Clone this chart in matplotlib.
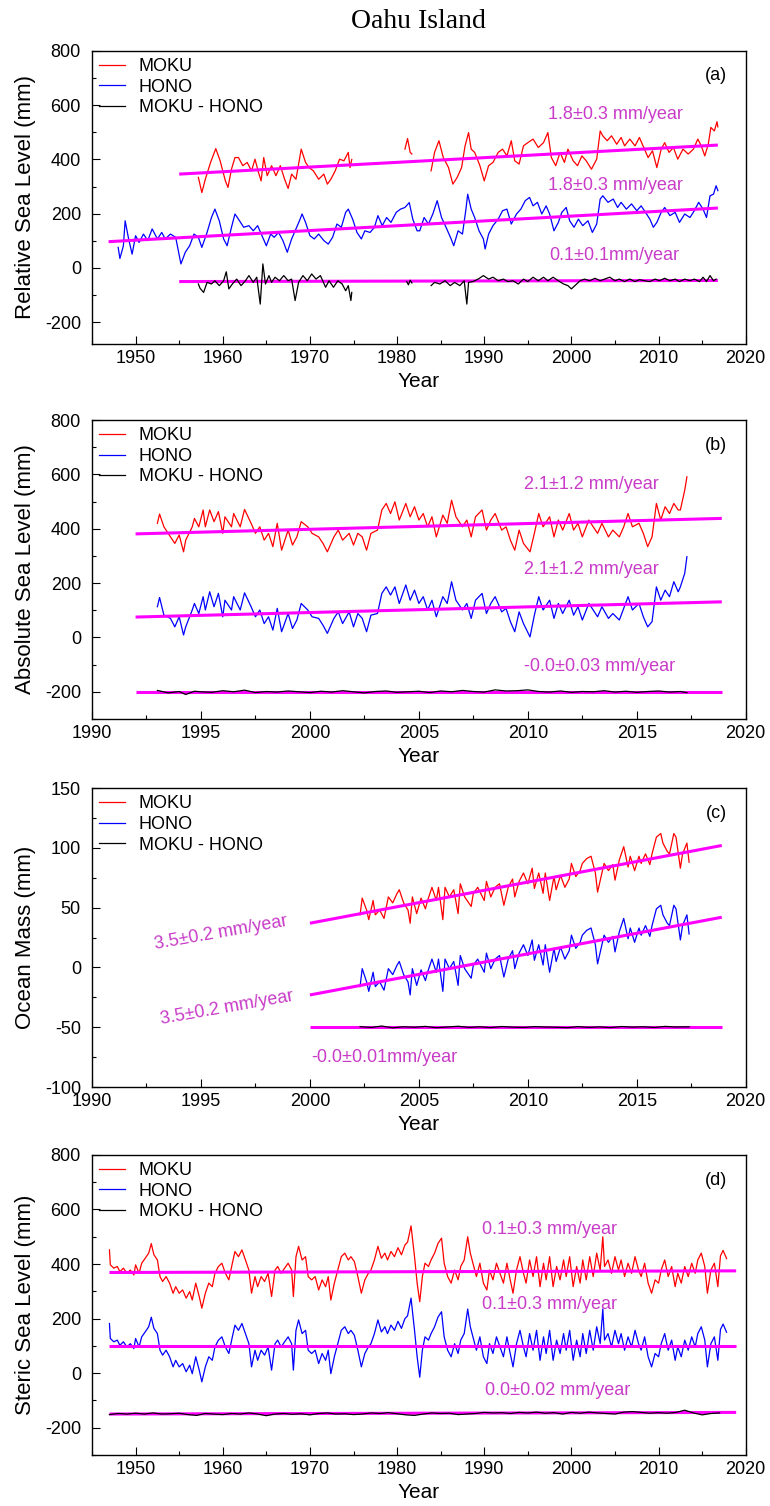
import numpy as np
import matplotlib
matplotlib.use('Agg')
import matplotlib.pyplot as plt
from matplotlib.ticker import MultipleLocator

plt.rcParams['font.family'] = ['Liberation Sans', 'DejaVu Sans']
plt.rcParams['axes.unicode_minus'] = False

nan = np.nan

# ---------------- (a) Relative sea level, tide gauges ----------------
a_moku = np.array([
    (1957.2, 334), (1957.6, 278), (1958.0, 327), (1958.6, 389), (1959.2, 440), (1959.7, 395),
    (1960.3, 321), (1960.6, 297), (1961.0, 364), (1961.4, 407), (1961.8, 407), (1962.3, 377),
    (1962.8, 389), (1963.3, 358), (1963.7, 401), (1964.1, 352), (1964.4, 321), (1964.7, 407),
    (1965.1, 340), (1965.6, 377), (1966.1, 340), (1966.6, 377), (1967.1, 327), (1967.5, 293),
    (1967.9, 346), (1968.4, 327), (1969.0, 438), (1969.5, 389), (1969.9, 370), (1970.4, 358),
    (1971.0, 327), (1971.6, 346), (1972.0, 309), (1972.4, 327), (1972.9, 358), (1973.4, 401),
    (1973.9, 395), (1974.4, 426), (1974.6, 370), (1974.8, 400), (1978.0, nan),
    (1980.9, 438), (1981.2, 477), (1981.5, 426), (1981.7, 420), (1983.0, nan),
    (1983.9, 358), (1984.3, 426), (1984.8, 469), (1985.3, 407), (1985.9, 370), (1986.4, 309),
    (1986.9, 334), (1987.4, 370), (1987.8, 450), (1988.2, 499), (1988.5, 438), (1988.9, 426),
    (1989.5, 377), (1990.0, 321), (1990.5, 377), (1991.0, 389), (1991.6, 426), (1992.1, 438),
    (1992.6, 413), (1993.1, 469), (1993.5, 395), (1994.0, 383), (1994.5, 450), (1995.0, 462),
    (1995.6, 475), (1996.2, 444), (1996.8, 462), (1997.3, 499), (1997.7, 407), (1998.2, 377),
    (1998.7, 426), (1999.2, 389), (1999.6, 438), (2000.2, 395), (2000.7, 377), (2001.2, 413),
    (2001.7, 395), (2002.3, 364), (2002.9, 401), (2003.3, 505), (2003.6, 487), (2004.1, 469),
    (2004.6, 487), (2005.2, 456), (2005.7, 481), (2006.1, 450), (2006.7, 475), (2007.3, 450),
    (2007.8, 481), (2008.3, 444), (2008.8, 407), (2009.3, 432), (2009.8, 370), (2010.3, 438),
    (2010.7, 462), (2011.2, 426), (2011.7, 444), (2012.2, 401), (2012.8, 438), (2013.4, 420),
    (2014.0, 438), (2014.5, 475), (2014.9, 450), (2015.3, 413), (2015.7, 456), (2016.0, 518),
    (2016.4, 505), (2016.7, 539), (2016.8, 520)])

a_hono = np.array([
    (1948.0, 76), (1948.2, 35), (1948.6, 82), (1948.8, 174), (1949.2, 107), (1949.6, 51),
    (1950.0, 119), (1950.4, 94), (1950.9, 125), (1951.4, 101), (1951.9, 144), (1952.5, 107),
    (1953.0, 131), (1953.4, 107), (1954.0, 125), (1954.6, 113), (1954.9, 64), (1955.2, 15),
    (1955.7, 58), (1956.2, 82), (1956.7, 125), (1957.2, 113), (1957.6, 76), (1958.2, 131),
    (1958.7, 186), (1959.1, 217), (1959.6, 174), (1960.1, 107), (1960.5, 82), (1961.0, 150),
    (1961.4, 199), (1961.8, 180), (1962.4, 150), (1963.0, 156), (1963.5, 137), (1964.0, 156),
    (1964.5, 119), (1965.0, 82), (1965.5, 125), (1965.9, 113), (1966.4, 131), (1966.9, 101),
    (1967.4, 58), (1967.9, 107), (1968.3, 137), (1968.8, 174), (1969.1, 199), (1969.5, 168),
    (1970.0, 119), (1970.5, 107), (1971.0, 125), (1971.6, 101), (1972.1, 88), (1972.6, 113),
    (1973.1, 162), (1973.6, 150), (1974.1, 205), (1974.4, 217), (1974.9, 180), (1975.4, 131),
    (1975.9, 107), (1976.3, 137), (1976.9, 131), (1977.4, 150), (1977.8, 193), (1978.3, 156),
    (1978.8, 186), (1979.3, 168), (1979.9, 205), (1980.4, 217), (1980.9, 223), (1981.4, 241),
    (1981.8, 180), (1982.3, 137), (1982.6, 137), (1983.1, 186), (1983.6, 162), (1984.1, 199),
    (1984.6, 248), (1985.1, 186), (1985.7, 144), (1986.2, 107), (1986.5, 82), (1987.0, 137),
    (1987.5, 125), (1987.9, 217), (1988.1, 272), (1988.5, 217), (1988.9, 186), (1989.4, 137),
    (1989.9, 107), (1990.1, 70), (1990.5, 125), (1991.0, 156), (1991.6, 180), (1992.1, 211),
    (1992.6, 217), (1993.1, 162), (1993.7, 199), (1994.2, 217), (1994.7, 248), (1995.2, 260),
    (1995.6, 229), (1996.1, 242), (1996.6, 199), (1997.1, 229), (1997.5, 199), (1998.0, 137),
    (1998.5, 168), (1998.9, 205), (1999.4, 223), (1999.8, 174), (2000.3, 150), (2000.8, 180),
    (2001.3, 156), (2001.9, 174), (2002.4, 131), (2002.9, 162), (2003.3, 254), (2003.6, 266),
    (2004.2, 242), (2004.8, 254), (2005.3, 223), (2005.7, 242), (2006.3, 217), (2006.9, 236),
    (2007.5, 211), (2008.0, 229), (2008.5, 205), (2009.0, 180), (2009.4, 150), (2009.8, 168),
    (2010.3, 205), (2010.7, 223), (2011.3, 193), (2011.9, 205), (2012.4, 168), (2013.0, 199),
    (2013.6, 186), (2014.1, 211), (2014.6, 242), (2015.1, 217), (2015.5, 186), (2015.9, 266),
    (2016.3, 272), (2016.6, 303), (2016.8, 285)])

a_diff = np.array([
    (1957.2, -59), (1957.4, -75), (1957.8, -90), (1958.2, -53), (1958.7, -59), (1959.1, -47),
    (1959.6, -65), (1960.1, -47), (1960.4, -14), (1960.7, -77), (1961.1, -59), (1961.6, -41),
    (1962.1, -65), (1962.6, -47), (1963.0, -28), (1963.5, -53), (1963.9, -34), (1964.3, -133),
    (1964.6, 15), (1964.9, -59), (1965.3, -28), (1965.6, -53), (1966.0, -34), (1966.5, -47),
    (1967.0, -28), (1967.5, -47), (1967.9, -41), (1968.3, -120), (1968.7, -53), (1969.2, -28),
    (1969.7, -47), (1970.2, -22), (1970.7, -41), (1971.2, -28), (1971.8, -71), (1972.2, -47),
    (1972.7, -71), (1973.2, -47), (1973.7, -59), (1974.1, -84), (1974.4, -65), (1974.7, -120),
    (1974.8, -90), (1978.0, nan),
    (1981.1, -50), (1981.3, -62), (1981.5, -45), (1981.7, -55), (1982.5, nan),
    (1983.9, -65), (1984.3, -53), (1984.9, -59), (1985.5, -47), (1986.1, -65), (1986.6, -53),
    (1987.2, -65), (1987.7, -47), (1988.0, -133), (1988.2, -53), (1988.7, -50), (1989.3, -41),
    (1989.9, -28), (1990.5, -41), (1991.0, -34), (1991.6, -47), (1992.2, -41), (1992.7, -50),
    (1993.3, -47), (1993.9, -59), (1994.5, -41), (1995.0, -50), (1995.6, -34), (1996.2, -47),
    (1996.8, -34), (1997.3, -47), (1997.9, -34), (1998.5, -47), (1999.1, -59), (1999.6, -65),
    (2000.0, -77), (2000.5, -62), (2001.0, -47), (2001.5, -41), (2002.1, -47), (2002.7, -38),
    (2003.3, -47), (2003.8, -41), (2004.4, -34), (2005.0, -47), (2005.5, -41), (2006.1, -50),
    (2006.7, -41), (2007.3, -50), (2007.8, -43), (2008.4, -47), (2009.0, -50), (2009.6, -41),
    (2010.1, -47), (2010.7, -38), (2011.3, -47), (2011.9, -41), (2012.4, -50), (2013.0, -41),
    (2013.6, -47), (2014.1, -41), (2014.7, -50), (2015.1, -34), (2015.5, -50), (2015.9, -28),
    (2016.3, -47), (2016.6, -41)])

a_trend_moku = np.array([(1955.0, 346), (2016.8, 453)])
a_trend_hono = np.array([(1946.9, 97), (2016.8, 221)])
a_trend_diff = np.array([(1955.0, -50), (2016.8, -46)])

# ---------------- (b) Absolute sea level ----------------
b_moku = np.array([
    (1993.0, 420), (1993.1, 454), (1993.3, 407), (1993.6, 370), (1993.8, 346), (1994.0, 377),
    (1994.2, 315), (1994.3, 358), (1994.6, 407), (1994.7, 438), (1994.9, 407), (1995.1, 469),
    (1995.2, 407), (1995.4, 469), (1995.6, 426), (1995.8, 463), (1996.0, 383), (1996.1, 444),
    (1996.4, 407), (1996.5, 456), (1996.8, 407), (1997.0, 471), (1997.3, 420), (1997.5, 383),
    (1997.7, 407), (1997.9, 358), (1998.1, 383), (1998.3, 334), (1998.5, 420), (1998.7, 321),
    (1999.0, 395), (1999.2, 340), (1999.4, 370), (1999.6, 426), (1999.9, 407), (2000.1, 383),
    (2000.4, 370), (2000.6, 346), (2000.8, 315), (2001.1, 370), (2001.3, 395), (2001.5, 358),
    (2001.8, 383), (2002.0, 340), (2002.2, 383), (2002.4, 370), (2002.6, 321), (2002.8, 383),
    (2003.1, 395), (2003.3, 469), (2003.5, 493), (2003.7, 456), (2003.9, 499), (2004.1, 432),
    (2004.4, 493), (2004.6, 444), (2004.8, 481), (2005.0, 432), (2005.2, 456), (2005.4, 407),
    (2005.6, 444), (2005.8, 370), (2006.1, 450), (2006.3, 420), (2006.5, 505), (2006.7, 444),
    (2007.0, 407), (2007.2, 432), (2007.4, 370), (2007.6, 444), (2007.9, 469), (2008.1, 395),
    (2008.3, 432), (2008.5, 456), (2008.8, 395), (2009.0, 407), (2009.2, 358), (2009.4, 321),
    (2009.6, 395), (2009.8, 346), (2010.1, 315), (2010.3, 383), (2010.5, 456), (2010.7, 407),
    (2011.0, 444), (2011.2, 370), (2011.4, 432), (2011.6, 395), (2011.9, 456), (2012.1, 395),
    (2012.3, 420), (2012.5, 370), (2012.8, 432), (2013.0, 407), (2013.2, 383), (2013.4, 420),
    (2013.7, 370), (2013.9, 395), (2014.2, 370), (2014.4, 407), (2014.6, 456), (2014.8, 407),
    (2015.1, 420), (2015.3, 383), (2015.5, 334), (2015.7, 370), (2015.9, 493), (2016.1, 432),
    (2016.3, 481), (2016.5, 456), (2016.7, 493), (2016.9, 469), (2017.0, 469), (2017.2, 542),
    (2017.3, 591)])

b_hono = np.array([
    (1993.0, 113), (1993.1, 147), (1993.3, 82), (1993.6, 70), (1993.8, 39), (1994.0, 76),
    (1994.2, 9), (1994.3, 39), (1994.6, 101), (1994.7, 125), (1994.9, 88), (1995.1, 150),
    (1995.2, 101), (1995.4, 168), (1995.6, 113), (1995.8, 162), (1996.0, 76), (1996.1, 137),
    (1996.4, 101), (1996.5, 150), (1996.8, 101), (1997.0, 164), (1997.3, 113), (1997.5, 76),
    (1997.7, 101), (1997.9, 51), (1998.1, 76), (1998.3, 27), (1998.5, 107), (1998.7, 21),
    (1999.0, 88), (1999.2, 33), (1999.4, 64), (1999.6, 125), (1999.9, 101), (2000.1, 76),
    (2000.4, 70), (2000.6, 45), (2000.8, 15), (2001.1, 70), (2001.3, 94), (2001.5, 51),
    (2001.8, 94), (2002.0, 39), (2002.2, 88), (2002.4, 70), (2002.6, 21), (2002.8, 82),
    (2003.1, 88), (2003.3, 162), (2003.5, 186), (2003.7, 156), (2003.9, 186), (2004.1, 125),
    (2004.4, 193), (2004.6, 137), (2004.8, 174), (2005.0, 125), (2005.2, 150), (2005.4, 101),
    (2005.6, 137), (2005.8, 76), (2006.1, 150), (2006.3, 125), (2006.5, 205), (2006.7, 137),
    (2007.0, 101), (2007.2, 125), (2007.4, 70), (2007.6, 137), (2007.9, 162), (2008.1, 88),
    (2008.3, 125), (2008.5, 150), (2008.8, 94), (2009.0, 107), (2009.2, 58), (2009.4, 21),
    (2009.6, 94), (2009.8, 51), (2010.1, 2), (2010.3, 82), (2010.5, 150), (2010.7, 101),
    (2011.0, 137), (2011.2, 70), (2011.4, 125), (2011.6, 88), (2011.9, 137), (2012.1, 82),
    (2012.3, 113), (2012.5, 64), (2012.8, 125), (2013.0, 101), (2013.2, 76), (2013.4, 113),
    (2013.7, 70), (2013.9, 88), (2014.2, 64), (2014.4, 107), (2014.6, 150), (2014.8, 101),
    (2015.1, 125), (2015.3, 76), (2015.5, 39), (2015.7, 58), (2015.9, 186), (2016.1, 137),
    (2016.3, 174), (2016.5, 150), (2016.7, 205), (2016.9, 168), (2017.0, 186), (2017.2, 236),
    (2017.3, 297)])

b_diff = np.array([
    (1993.0, -195), (1993.5, -204), (1994.0, -199), (1994.3, -210), (1994.7, -198), (1995.0, -200),
    (1995.5, -202), (1996.0, -196), (1996.5, -200), (1997.0, -194), (1997.5, -203), (1998.0, -199),
    (1998.5, -201), (1999.0, -197), (1999.5, -200), (2000.0, -203), (2000.5, -198), (2001.0, -201),
    (2001.5, -196), (2002.0, -200), (2002.5, -204), (2003.0, -199), (2003.5, -197), (2004.0, -202),
    (2004.5, -200), (2005.0, -198), (2005.5, -203), (2006.0, -197), (2006.5, -200), (2007.0, -195),
    (2007.5, -199), (2008.0, -201), (2008.5, -193), (2009.0, -197), (2009.5, -196), (2010.0, -193),
    (2010.5, -199), (2011.0, -201), (2011.5, -197), (2012.0, -202), (2012.5, -199), (2013.0, -200),
    (2013.5, -196), (2014.0, -201), (2014.5, -198), (2015.0, -202), (2015.5, -199), (2016.0, -197),
    (2016.5, -201), (2017.0, -199), (2017.3, -203)])

b_trend_moku = np.array([(1992.0, 381), (2018.9, 438)])
b_trend_hono = np.array([(1992.0, 75), (2018.9, 131)])
b_trend_diff = np.array([(1992.0, -200), (2018.9, -200)])

# ---------------- (c) Ocean mass ----------------
c_moku = np.array([
    (2002.3, 44), (2002.4, 58), (2002.6, 48), (2002.7, 40), (2002.9, 56), (2003.0, 44),
    (2003.2, 48), (2003.4, 41), (2003.6, 59), (2003.8, 54), (2004.0, 62), (2004.1, 65),
    (2004.3, 54), (2004.5, 48), (2004.6, 37), (2004.7, 59), (2004.9, 45), (2005.1, 58),
    (2005.3, 49), (2005.4, 56), (2005.6, 67), (2005.8, 56), (2005.9, 67), (2006.1, 40),
    (2006.2, 67), (2006.4, 59), (2006.6, 65), (2006.8, 45), (2006.9, 70), (2007.1, 59),
    (2007.4, 51), (2007.5, 62), (2007.7, 67), (2008.0, 56), (2008.1, 72), (2008.3, 59),
    (2008.5, 67), (2008.7, 70), (2008.9, 52), (2009.1, 67), (2009.3, 74), (2009.4, 59),
    (2009.6, 72), (2009.8, 79), (2010.0, 70), (2010.2, 83), (2010.3, 66), (2010.5, 79),
    (2010.7, 62), (2010.8, 79), (2011.0, 56), (2011.2, 76), (2011.3, 65), (2011.5, 77),
    (2011.7, 67), (2011.9, 74), (2012.0, 87), (2012.2, 76), (2012.4, 81), (2012.5, 87),
    (2012.7, 91), (2012.9, 93), (2013.1, 79), (2013.2, 63), (2013.4, 79), (2013.5, 87),
    (2013.7, 81), (2013.9, 86), (2014.0, 73), (2014.2, 90), (2014.4, 101), (2014.6, 84),
    (2014.7, 93), (2014.9, 81), (2015.1, 93), (2015.2, 87), (2015.4, 95), (2015.6, 86),
    (2015.7, 95), (2015.9, 109), (2016.1, 112), (2016.2, 104), (2016.4, 97), (2016.5, 95),
    (2016.7, 112), (2016.8, 109), (2017.0, 83), (2017.1, 95), (2017.3, 104), (2017.4, 88)])

c_hono = np.array([
    (2002.3, -16), (2002.4, -1), (2002.6, -12), (2002.7, -20), (2002.9, -4), (2003.0, -16),
    (2003.2, -12), (2003.4, -19), (2003.6, -1), (2003.8, -6), (2004.0, 2), (2004.1, 5),
    (2004.3, -6), (2004.5, -12), (2004.6, -23), (2004.7, -1), (2004.9, -15), (2005.1, -2),
    (2005.3, -11), (2005.4, -4), (2005.6, 7), (2005.8, -4), (2005.9, 7), (2006.1, -20),
    (2006.2, 7), (2006.4, -1), (2006.6, 5), (2006.8, -15), (2006.9, 10), (2007.1, -1),
    (2007.4, -9), (2007.5, 2), (2007.7, 7), (2008.0, -4), (2008.1, 12), (2008.3, -1),
    (2008.5, 7), (2008.7, 10), (2008.9, -8), (2009.1, 7), (2009.3, 14), (2009.4, -1),
    (2009.6, 12), (2009.8, 19), (2010.0, 10), (2010.2, 23), (2010.3, 6), (2010.5, 19),
    (2010.7, 2), (2010.8, 19), (2011.0, -4), (2011.2, 16), (2011.3, 5), (2011.5, 17),
    (2011.7, 7), (2011.9, 14), (2012.0, 27), (2012.2, 16), (2012.4, 21), (2012.5, 27),
    (2012.7, 31), (2012.9, 33), (2013.1, 19), (2013.2, 3), (2013.4, 19), (2013.5, 27),
    (2013.7, 21), (2013.9, 26), (2014.0, 13), (2014.2, 30), (2014.4, 41), (2014.6, 24),
    (2014.7, 33), (2014.9, 21), (2015.1, 33), (2015.2, 27), (2015.4, 35), (2015.6, 26),
    (2015.7, 35), (2015.9, 49), (2016.1, 52), (2016.2, 44), (2016.4, 37), (2016.5, 35),
    (2016.7, 52), (2016.8, 49), (2017.0, 23), (2017.1, 35), (2017.3, 44), (2017.4, 28)])

c_diff = np.array([
    (2002.3, -49.5), (2002.8, -50.2), (2003.3, -49.0), (2003.8, -50.5), (2004.3, -49.6),
    (2004.8, -50.0), (2005.3, -49.3), (2005.8, -50.4), (2006.3, -49.8), (2006.8, -49.2),
    (2007.3, -50.1), (2007.8, -49.6), (2008.3, -50.3), (2008.8, -49.4), (2009.3, -49.9),
    (2009.8, -50.2), (2010.3, -49.5), (2010.8, -49.8), (2011.3, -50.0), (2011.8, -50.4),
    (2012.3, -49.5), (2012.8, -50.1), (2013.3, -49.7), (2013.8, -50.3), (2014.3, -49.4),
    (2014.8, -49.9), (2015.3, -49.6), (2015.8, -50.2), (2016.3, -49.3), (2016.8, -49.8),
    (2017.4, -49.6)])

c_trend_moku = np.array([(2000.0, 37), (2018.9, 102)])
c_trend_hono = np.array([(2000.0, -23), (2018.9, 42)])
c_trend_diff = np.array([(2000.0, -50), (2018.9, -50)])

# ---------------- (d) Steric sea level ----------------
d_moku = np.array([
    (1947.0, 452), (1947.1, 397), (1947.5, 385), (1947.9, 391), (1948.2, 372), (1948.6, 385),
    (1949.0, 366), (1949.4, 378), (1949.8, 360), (1950.0, 397), (1950.4, 366), (1950.7, 403),
    (1951.1, 421), (1951.5, 440), (1951.8, 475), (1952.1, 434), (1952.5, 415), (1952.8, 354),
    (1953.1, 336), (1953.5, 354), (1953.9, 330), (1954.3, 293), (1954.6, 317), (1955.0, 293),
    (1955.4, 305), (1955.8, 275), (1956.2, 299), (1956.5, 268), (1956.9, 330), (1957.3, 281),
    (1957.6, 238), (1958.0, 293), (1958.4, 330), (1958.8, 317), (1959.1, 366), (1959.5, 391),
    (1959.9, 403), (1960.3, 366), (1960.7, 342), (1961.1, 403), (1961.4, 446), (1961.8, 427),
    (1962.2, 452), (1962.6, 415), (1963.0, 378), (1963.3, 293), (1963.7, 354), (1964.0, 317),
    (1964.4, 354), (1964.8, 336), (1965.2, 366), (1965.6, 281), (1966.0, 378), (1966.3, 391),
    (1966.7, 366), (1967.1, 385), (1967.5, 403), (1967.9, 378), (1968.1, 281), (1968.4, 427),
    (1968.7, 465), (1969.1, 415), (1969.5, 427), (1969.8, 354), (1970.2, 342), (1970.6, 354),
    (1971.0, 305), (1971.4, 342), (1971.8, 317), (1972.1, 354), (1972.4, 268), (1972.8, 330),
    (1973.2, 378), (1973.6, 427), (1974.0, 440), (1974.4, 415), (1974.7, 427), (1975.1, 409),
    (1975.5, 354), (1975.9, 293), (1976.3, 342), (1976.7, 366), (1977.0, 378), (1977.4, 415),
    (1977.8, 465), (1978.2, 421), (1978.6, 440), (1978.9, 415), (1979.3, 446), (1979.7, 427),
    (1980.1, 460), (1980.5, 434), (1980.9, 470), (1981.2, 480), (1981.6, 540), (1982.0, 427),
    (1982.3, 330), (1982.6, 262), (1982.9, 354), (1983.2, 403), (1983.6, 391), (1983.9, 415),
    (1984.3, 440), (1984.7, 476), (1985.1, 495), (1985.4, 403), (1985.8, 354), (1986.2, 330),
    (1986.6, 378), (1987.0, 342), (1987.3, 391), (1987.7, 415), (1988.1, 500), (1988.4, 440),
    (1988.7, 403), (1989.1, 354), (1989.5, 403), (1989.9, 330), (1990.3, 305), (1990.6, 378),
    (1991.0, 342), (1991.4, 403), (1991.8, 366), (1992.2, 330), (1992.6, 403), (1992.9, 354),
    (1993.3, 293), (1993.7, 378), (1994.1, 427), (1994.5, 366), (1994.8, 330), (1995.2, 415),
    (1995.6, 354), (1996.0, 427), (1996.4, 317), (1996.8, 403), (1997.1, 342), (1997.5, 427),
    (1997.9, 317), (1998.3, 391), (1998.7, 342), (1999.1, 415), (1999.4, 354), (1999.8, 427),
    (2000.2, 317), (2000.6, 391), (2001.0, 330), (2001.3, 415), (2001.7, 342), (2002.1, 427),
    (2002.5, 354), (2002.9, 440), (2003.3, 378), (2003.6, 500), (2003.8, 391), (2004.2, 415),
    (2004.6, 366), (2005.0, 427), (2005.4, 378), (2005.7, 415), (2006.1, 354), (2006.5, 403),
    (2006.9, 366), (2007.3, 427), (2007.7, 378), (2008.0, 354), (2008.4, 403), (2008.8, 330),
    (2009.2, 293), (2009.6, 342), (2010.0, 330), (2010.3, 378), (2010.7, 415), (2011.1, 354),
    (2011.5, 391), (2011.9, 317), (2012.2, 366), (2012.6, 330), (2013.0, 391), (2013.4, 354),
    (2013.8, 403), (2014.2, 366), (2014.5, 415), (2014.9, 440), (2015.3, 391), (2015.6, 293),
    (2016.0, 378), (2016.4, 403), (2016.8, 317), (2017.1, 430), (2017.4, 450), (2017.8, 420)])

d_hono = np.array([
    (1947.0, 182), (1947.1, 127), (1947.5, 115), (1947.9, 121), (1948.2, 102), (1948.6, 115),
    (1949.0, 96), (1949.4, 108), (1949.8, 90), (1950.0, 127), (1950.4, 96), (1950.7, 133),
    (1951.1, 151), (1951.5, 170), (1951.8, 205), (1952.1, 164), (1952.5, 145), (1952.8, 84),
    (1953.1, 66), (1953.5, 84), (1953.9, 60), (1954.3, 23), (1954.6, 47), (1955.0, 23),
    (1955.4, 35), (1955.8, 5), (1956.2, 29), (1956.5, -2), (1956.9, 60), (1957.3, 11),
    (1957.6, -32), (1958.0, 23), (1958.4, 60), (1958.8, 47), (1959.1, 96), (1959.5, 121),
    (1959.9, 133), (1960.3, 96), (1960.7, 72), (1961.1, 133), (1961.4, 176), (1961.8, 157),
    (1962.2, 182), (1962.6, 145), (1963.0, 108), (1963.3, 23), (1963.7, 84), (1964.0, 47),
    (1964.4, 84), (1964.8, 66), (1965.2, 96), (1965.6, 11), (1966.0, 108), (1966.3, 121),
    (1966.7, 96), (1967.1, 115), (1967.5, 133), (1967.9, 108), (1968.1, 11), (1968.4, 157),
    (1968.7, 195), (1969.1, 145), (1969.5, 157), (1969.8, 84), (1970.2, 72), (1970.6, 84),
    (1971.0, 35), (1971.4, 72), (1971.8, 47), (1972.1, 84), (1972.4, -2), (1972.8, 60),
    (1973.2, 108), (1973.6, 157), (1974.0, 170), (1974.4, 145), (1974.7, 157), (1975.1, 139),
    (1975.5, 84), (1975.9, 23), (1976.3, 72), (1976.7, 96), (1977.0, 108), (1977.4, 145),
    (1977.8, 195), (1978.2, 151), (1978.6, 170), (1978.9, 145), (1979.3, 176), (1979.7, 157),
    (1980.1, 190), (1980.5, 164), (1980.9, 200), (1981.2, 210), (1981.6, 275), (1982.0, 157),
    (1982.3, 60), (1982.6, -15), (1982.9, 84), (1983.2, 133), (1983.6, 121), (1983.9, 145),
    (1984.3, 170), (1984.7, 206), (1985.1, 225), (1985.4, 133), (1985.8, 84), (1986.2, 60),
    (1986.6, 108), (1987.0, 72), (1987.3, 121), (1987.7, 145), (1988.1, 235), (1988.4, 170),
    (1988.7, 133), (1989.1, 84), (1989.5, 133), (1989.9, 60), (1990.3, 35), (1990.6, 108),
    (1991.0, 72), (1991.4, 133), (1991.8, 96), (1992.2, 60), (1992.6, 133), (1992.9, 84),
    (1993.3, 23), (1993.7, 108), (1994.1, 157), (1994.5, 96), (1994.8, 60), (1995.2, 145),
    (1995.6, 84), (1996.0, 157), (1996.4, 47), (1996.8, 133), (1997.1, 72), (1997.5, 157),
    (1997.9, 47), (1998.3, 121), (1998.7, 72), (1999.1, 145), (1999.4, 84), (1999.8, 157),
    (2000.2, 47), (2000.6, 121), (2001.0, 60), (2001.3, 145), (2001.7, 72), (2002.1, 157),
    (2002.5, 84), (2002.9, 170), (2003.3, 108), (2003.6, 235), (2003.8, 121), (2004.2, 145),
    (2004.6, 96), (2005.0, 157), (2005.4, 108), (2005.7, 145), (2006.1, 84), (2006.5, 133),
    (2006.9, 96), (2007.3, 157), (2007.7, 108), (2008.0, 84), (2008.4, 133), (2008.8, 60),
    (2009.2, 23), (2009.6, 72), (2010.0, 60), (2010.3, 108), (2010.7, 145), (2011.1, 84),
    (2011.5, 121), (2011.9, 47), (2012.2, 96), (2012.6, 60), (2013.0, 121), (2013.4, 84),
    (2013.8, 133), (2014.2, 96), (2014.5, 145), (2014.9, 170), (2015.3, 121), (2015.6, 23),
    (2016.0, 108), (2016.4, 133), (2016.8, 47), (2017.1, 160), (2017.4, 180), (2017.8, 150)])

d_diff_years = np.arange(1947, 2018)
d_diff = [-152, -148, -150, -147, -150, -146, -150, -149, -147, -152,
          -155, -148, -150, -152, -148, -150, -146, -150, -156, -150,
          -148, -151, -149, -153, -148, -146, -150, -149, -152, -150,
          -146, -148, -145, -149, -153, -155, -150, -146, -148, -147,
          -152, -150, -148, -144, -146, -145, -148, -144, -146, -143,
          -147, -145, -150, -144, -147, -143, -146, -148, -150, -143,
          -141, -144, -147, -145, -147, -144, -136, -146, -153, -148,
          -146]

d_trend_moku = np.array([(1947.0, 369), (2018.9, 375)])
d_trend_hono = np.array([(1947.0, 100), (2018.9, 100)])
d_trend_diff = np.array([(1947.0, -150), (2018.9, -144)])

# ---------------- figure ----------------
RED, BLUE, TREND, NOTE = '#ff0000', '#0000ff', '#ff00ff', '#c83cc8'

fig = plt.figure(figsize=(7.7, 15.06), dpi=100)
fig.text(0.543, 0.9854, 'Oahu Island', ha='center', va='center', fontsize=20,
         family=['Liberation Serif', 'DejaVu Serif'])

left, width = 0.1195, 0.849
ax_a = fig.add_axes([left, 0.7716, width, 0.1946])
ax_b = fig.add_axes([left, 0.5226, width, 0.1985])
ax_c = fig.add_axes([left, 0.2782, width, 0.1985])
ax_d = fig.add_axes([left, 0.0339, width, 0.1992])


def panel(ax, moku, hono, diff_x, diff_y, trends, tag, ylabel, xlim, ylim, xstep, ystep):
    # red/blue under the trend lines, black difference on top
    ax.plot(moku[:, 0], moku[:, 1], color=RED, lw=0.9, label='MOKU', zorder=2)
    ax.plot(hono[:, 0], hono[:, 1], color=BLUE, lw=0.9, label='HONO', zorder=2)
    ax.plot(diff_x, diff_y, color='black', lw=0.9, label='MOKU - HONO', zorder=4)
    for t in trends:
        ax.plot(t[:, 0], t[:, 1], color=TREND, lw=2.2, solid_capstyle='butt', zorder=3)
    ax.set_xlim(*xlim)
    ax.set_ylim(*ylim)
    ax.xaxis.set_major_locator(MultipleLocator(xstep))
    ax.xaxis.set_minor_locator(MultipleLocator(xstep / 2))
    ax.yaxis.set_major_locator(MultipleLocator(ystep))
    ax.yaxis.set_minor_locator(MultipleLocator(ystep / 2))
    ax.tick_params(which='both', direction='in', width=0.8, labelsize=13)
    ax.tick_params(which='major', length=6)
    ax.tick_params(which='minor', length=3)
    ax.tick_params(axis='x', pad=4)
    ax.tick_params(axis='y', pad=8)
    ax.set_xlabel('Year', fontsize=15, labelpad=4)
    ax.set_ylabel(ylabel, fontsize=16, labelpad=6)
    ax.text(0.955, 0.915, tag, transform=ax.transAxes, ha='center', va='center', fontsize=13)
    ax.legend(loc='upper left', frameon=False, fontsize=13, handlelength=1.4,
              handletextpad=0.8, labelspacing=0.2, borderaxespad=0.2, borderpad=0.2)
    for s in ax.spines.values():
        s.set_linewidth(1.0)


panel(ax_a, a_moku, a_hono, a_diff[:, 0], a_diff[:, 1],
      [a_trend_moku, a_trend_hono, a_trend_diff], '(a)', 'Relative Sea Level (mm)',
      (1945, 2020), (-280, 800), 10, 200)
panel(ax_b, b_moku, b_hono, b_diff[:, 0], b_diff[:, 1],
      [b_trend_moku, b_trend_hono, b_trend_diff], '(b)', 'Absolute Sea Level (mm)',
      (1990, 2020), (-300, 800), 5, 200)
panel(ax_c, c_moku, c_hono, c_diff[:, 0], c_diff[:, 1],
      [c_trend_moku, c_trend_hono, c_trend_diff], '(c)', 'Ocean Mass (mm)',
      (1990, 2020), (-100, 150), 5, 50)
panel(ax_d, d_moku, d_hono, d_diff_years, d_diff,
      [d_trend_moku, d_trend_hono, d_trend_diff], '(d)', 'Steric Sea Level (mm)',
      (1945, 2020), (-300, 800), 10, 200)

# rate annotations
kw = dict(color=NOTE, fontsize=13, ha='center', va='center')
ax_a.text(2005.1, 567, '1.8±0.3 mm/year', **kw)
ax_a.text(2005.1, 305, '1.8±0.3 mm/year', **kw)
ax_a.text(2004.9, 45, '0.1±0.1mm/year', **kw)

ax_b.text(2012.9, 561, '2.1±1.2 mm/year', **kw)
ax_b.text(2012.9, 251, '2.1±1.2 mm/year', **kw)
ax_b.text(2013.3, -108, '-0.0±0.03 mm/year', **kw)

ax_c.text(1995.9, 28.5, '3.5±0.2 mm/year', rotation=10, **kw)
ax_c.text(1996.2, -34, '3.5±0.2 mm/year', rotation=10, **kw)
ax_c.text(2003.4, -75, '-0.0±0.01mm/year', **kw)

ax_d.text(1997.5, 528, '0.1±0.3 mm/year', **kw)
ax_d.text(1997.5, 250, '0.1±0.3 mm/year', **kw)
ax_d.text(1998.4, -64, '0.0±0.02 mm/year', **kw)

fig.savefig('out.png', dpi=100)
